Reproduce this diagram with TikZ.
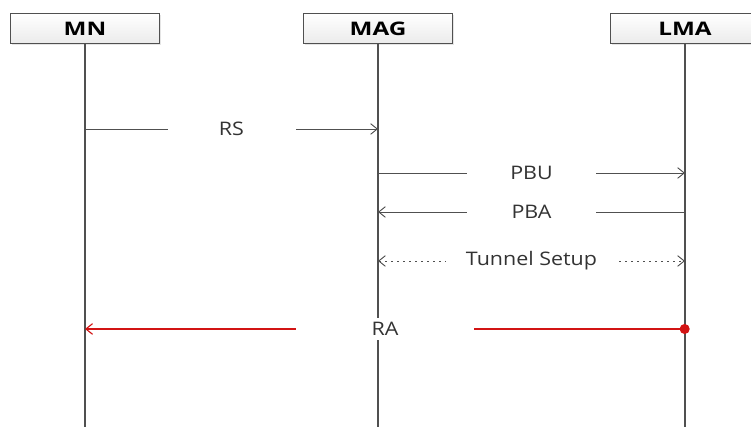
\documentclass[tikz,border=0pt]{standalone}
\usepackage{fontspec}
\setmainfont[FakeStretch=1.15]{Open Sans}
\newfontfamily\hdrfont[FakeStretch=1.3]{Open Sans}
\definecolor{msggray}{RGB}{80,80,80}
\definecolor{msgred}{RGB}{210,20,20}
\definecolor{boxgray}{RGB}{235,235,235}
\usetikzlibrary{arrows.meta,positioning,calc,shadows}
\begin{document}
\begin{tikzpicture}[x=0.75pt, y=-0.75pt, every node/.style={font=\fontsize{14}{16}\selectfont},
  hdr/.style={draw=msggray, line width=0.8pt, top color=white, bottom color=boxgray, minimum width=112pt, minimum height=23pt, font=\hdrfont\fontsize{14}{16}\selectfont\bfseries, drop shadow={shadow xshift=1.2pt, shadow yshift=-1.2pt, fill=gray!40}},
  life/.style={draw=msggray, line width=0.9pt},
  msg/.style={draw=msggray, line width=0.7pt, -{Straight Barb[length=5pt, width=8pt]}},
  lbl/.style={fill=white, inner sep=1pt, text=black!80, minimum height=16pt}]
\useasboundingbox (0,0) rectangle (751,427);
% Lifeline heads
\node[hdr] (mn) at (85,28.5) {MN};
\node[hdr] (mag) at (378,28.5) {MAG};
\node[hdr] (lma) at (685,28.5) {LMA};
% Lifelines
\coordinate (mnend) at (85,427);
\coordinate (magend) at (378,427);
\coordinate (lmaend) at (685,427);
\draw[life] (mn) -- (mnend);
\draw[life] (mag) -- (magend);
\draw[life] (lma) -- (lmaend);
% Message ends
\coordinate (mnRS) at (85,129);  \coordinate (magRS) at (378,129);
\coordinate (magPBU) at (378,173); \coordinate (lmaPBU) at (685,173);
\coordinate (magPBA) at (378,212); \coordinate (lmaPBA) at (685,212);
\coordinate (magTun) at (378,261); \coordinate (lmaTun) at (685,261);
\coordinate (mnRA) at (85,329);  \coordinate (lmaRA) at (685,329);
% Messages
\draw[msg] (mnRS) -- node[lbl, minimum width=96pt]{RS} (magRS);
\draw[msg] (magPBU) -- node[lbl, minimum width=97pt]{PBU} (lmaPBU);
\draw[msg] (lmaPBA) -- node[lbl, minimum width=97pt]{PBA} (magPBA);
\draw[msg, {Straight Barb[length=5pt, width=8pt]}-{Straight Barb[length=5pt, width=8pt]}, dash pattern=on 1.2pt off 3.3pt] (magTun) -- node[lbl, minimum width=129pt]{Tunnel Setup} (lmaTun);
\draw[msg, draw=msgred, line width=0.85pt, shorten <=-3.5pt, {Circle[length=7.5pt]}-{Straight Barb[length=5pt, width=8pt]}] (lmaRA) -- node[lbl, minimum width=133pt]{RA} (mnRA);
\end{tikzpicture}
\end{document}
